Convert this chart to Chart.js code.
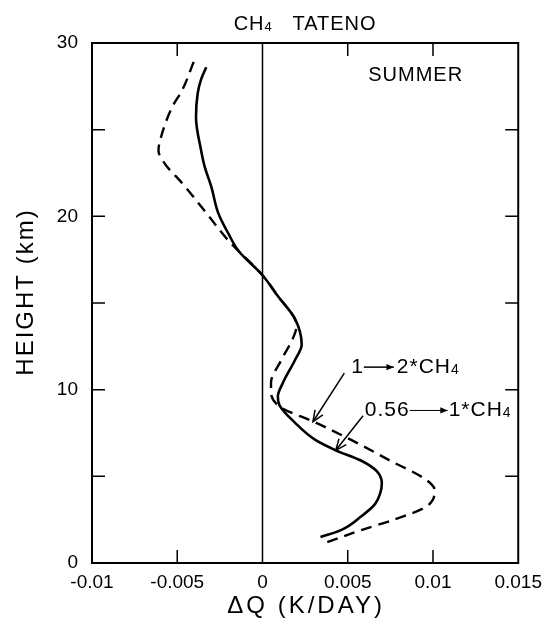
<!DOCTYPE html>
<html>
<head>
<meta charset="utf-8">
<script src="https://cdn.jsdelivr.net/npm/chart.js@4.4.0/dist/chart.umd.min.js"></script>
<style>
  html, body { margin: 0; padding: 0; background: #fff; }
</style>
</head>
<body>
<canvas id="profileChart" width="550" height="632"></canvas>
<script>
// values: height (km) and change of heating rate (K/day)
const solidHeight = [1.5, 1.9, 2.7, 3.4, 4.0, 4.6, 5.3, 5.9, 6.5, 7.1, 8.1, 9.1, 9.6, 10.4, 11.7, 12.6, 14.1, 15.4, 16.6, 18.0, 19.0, 20.2, 21.7, 22.9, 23.8, 25.7, 27.1, 27.9, 28.6];
const solidDQ = [0.0034, 0.0046, 0.0058, 0.0066, 0.0069, 0.0070, 0.0067, 0.0058, 0.0043, 0.0031, 0.0019, 0.0010, 0.0009, 0.0012, 0.0019, 0.0023, 0.0019, 0.0009, 0.0, -0.0014, -0.0020, -0.0026, -0.0030, -0.0034, -0.0036, -0.0039, -0.0038, -0.0036, -0.0033];

const dashedHeight = [1.2, 1.9, 2.5, 3.25, 4.2, 4.8, 5.9, 7.1, 8.15, 8.9, 9.2, 9.8, 10.4, 11.7, 13.0, 13.7, 15.4, 16.6, 18.6, 20.2, 21.9, 23.0, 23.8, 24.4, 26.3, 27.3, 29.0];
const dashedDQ = [0.0038, 0.0058, 0.0077, 0.0096, 0.0101, 0.0096, 0.0075, 0.0052, 0.0030, 0.0012, 0.0008, 0.0005, 0.0005, 0.0011, 0.0018, 0.0020, 0.0009, 0.0, -0.0020, -0.0033, -0.0047, -0.0057, -0.0061, -0.0060, -0.0053, -0.0047, -0.0040];

const xTickLabels = ["-0.01", "-0.005", "0", "0.005", "0.01", "0.015"];
const yTickLabels = [0, 10, 20, 30];
const xTickMarks = [-0.005, 0.005, 0.01];
const yTickMarks = [5, 10, 15, 20, 25];

const FONT = "'Liberation Sans', Arial, sans-serif";

function toPoints(hs, vals) {
  return hs.map((h, i) => ({ x: vals[i], y: h }));
}

// draws text runs ({t, size, dy}) from x on a middle baseline, returns end x
function drawRuns(ctx, runs, x, y) {
  let cx = x;
  runs.forEach((r) => {
    ctx.font = r.size + "px " + FONT;
    ctx.fillText(r.t, cx, y + (r.dy || 0));
    cx += ctx.measureText(r.t).width;
  });
  return cx;
}
function runsWidth(ctx, runs) {
  let w = 0;
  runs.forEach((r) => {
    ctx.font = r.size + "px " + FONT;
    w += ctx.measureText(r.t).width;
  });
  return w;
}

function arrowLine(ctx, x1, y1, x2, y2, head, filled) {
  ctx.beginPath();
  ctx.moveTo(x1, y1);
  ctx.lineTo(x2, y2);
  ctx.stroke();
  const a = Math.atan2(y2 - y1, x2 - x1);
  const p1 = [x2 - head * Math.cos(a - 0.4), y2 - head * Math.sin(a - 0.4)];
  const p2 = [x2 - head * Math.cos(a + 0.4), y2 - head * Math.sin(a + 0.4)];
  ctx.beginPath();
  if (filled) {
    ctx.moveTo(x2, y2);
    ctx.lineTo(p1[0], p1[1]);
    ctx.lineTo(p2[0], p2[1]);
    ctx.closePath();
    ctx.fill();
  } else {
    ctx.moveTo(p1[0], p1[1]);
    ctx.lineTo(x2, y2);
    ctx.lineTo(p2[0], p2[1]);
    ctx.stroke();
  }
}

const framePlugin = {
  id: "frame",
  afterDatasetsDraw(chart) {
    const ctx = chart.ctx;
    const { left, right, top, bottom } = chart.chartArea;
    const xs = chart.scales.x;
    const ys = chart.scales.y;
    ctx.save();
    ctx.strokeStyle = "#000";
    ctx.fillStyle = "#000";

    // box
    ctx.lineWidth = 2;
    ctx.strokeRect(left, top, right - left, bottom - top);

    // zero line
    ctx.lineWidth = 1.5;
    const x0 = xs.getPixelForValue(0);
    ctx.beginPath();
    ctx.moveTo(x0, top);
    ctx.lineTo(x0, bottom);
    ctx.stroke();

    // inward tick marks on all four sides
    const tl = 13;
    ctx.beginPath();
    xTickMarks.forEach((v) => {
      const px = xs.getPixelForValue(v);
      ctx.moveTo(px, bottom);
      ctx.lineTo(px, bottom - tl);
      ctx.moveTo(px, top);
      ctx.lineTo(px, top + tl);
    });
    yTickMarks.forEach((v) => {
      const py = ys.getPixelForValue(v);
      ctx.moveTo(left, py);
      ctx.lineTo(left + tl, py);
      ctx.moveTo(right, py);
      ctx.lineTo(right - tl, py);
    });
    ctx.stroke();

    ctx.textBaseline = "middle";
    ctx.textAlign = "left";

    // title
    ctx.letterSpacing = "1px";
    const titleRuns = [
      { t: "CH", size: 20 },
      { t: "4", size: 13, dy: 3 },
      { t: "   TATENO", size: 20 },
    ];
    const tw = runsWidth(ctx, titleRuns);
    drawRuns(ctx, titleRuns, (left + right) / 2 - tw / 2, top - 19);

    // season label
    drawRuns(ctx, [{ t: "SUMMER", size: 20 }], xs.getPixelForValue(0.0062), ys.getPixelForValue(28.15));

    // label 1 -> 2*CH4, pointing at the dashed curve
    let lx = xs.getPixelForValue(0.0052);
    let ly = ys.getPixelForValue(11.3);
    let cx = drawRuns(ctx, [{ t: "1", size: 21 }], lx, ly);
    ctx.lineWidth = 1.5;
    arrowLine(ctx, cx, ly, cx + 30, ly, 8, true);
    drawRuns(ctx, [{ t: "2*CH", size: 21 }, { t: "4", size: 14, dy: 3 }], cx + 33, ly);
    arrowLine(ctx, xs.getPixelForValue(0.0048), ys.getPixelForValue(10.95),
      xs.getPixelForValue(0.00296), ys.getPixelForValue(8.15), 12, false);

    // label 0.56 -> 1*CH4, pointing at the solid curve
    lx = xs.getPixelForValue(0.0060);
    ly = ys.getPixelForValue(8.8);
    cx = drawRuns(ctx, [{ t: "0.56", size: 21 }], lx, ly);
    ctx.lineWidth = 1;
    arrowLine(ctx, cx, ly, cx + 38, ly, 8, true);
    drawRuns(ctx, [{ t: "1*CH", size: 21 }, { t: "4", size: 14, dy: 3 }], cx + 39, ly);
    ctx.lineWidth = 1.5;
    arrowLine(ctx, xs.getPixelForValue(0.0059), ys.getPixelForValue(8.5),
      xs.getPixelForValue(0.0043), ys.getPixelForValue(6.5), 12, false);

    // axis titles
    ctx.textAlign = "center";
    ctx.font = "24px " + FONT;
    ctx.letterSpacing = "3px";
    ctx.fillText("ΔQ (K/DAY)", (left + right) / 2 + 1, 606);
    ctx.save();
    ctx.translate(26, 293);
    ctx.rotate(-Math.PI / 2);
    ctx.letterSpacing = "2px";
    ctx.fillText("HEIGHT (km)", 1, 0);
    ctx.restore();

    ctx.restore();
  },
};

new Chart(document.getElementById("profileChart"), {
  type: "line",
  data: {
    datasets: [
      {
        label: "0.56 -> 1*CH4",
        data: toPoints(solidHeight, solidDQ),
        borderColor: "#000",
        borderWidth: 2.6,
        pointRadius: 0,
        fill: false,
        cubicInterpolationMode: "monotone",
      },
      {
        label: "1 -> 2*CH4",
        data: toPoints(dashedHeight, dashedDQ),
        borderColor: "#000",
        borderWidth: 2.4,
        borderDash: [11, 7],
        pointRadius: 0,
        fill: false,
        cubicInterpolationMode: "monotone",
      },
    ],
  },
  options: {
    responsive: false,
    animation: false,
    indexAxis: "y",
    layout: { padding: { top: 43, right: 27, left: 0, bottom: 0 } },
    scales: {
      x: {
        type: "linear",
        position: "bottom",
        min: -0.01,
        max: 0.015,
        grid: { display: false, drawTicks: false },
        border: { display: false },
        ticks: {
          stepSize: 0.005,
          padding: 8,
          color: "#000",
          font: { family: FONT, size: 19 },
          maxRotation: 0,
          callback: function (value) {
            const i = Math.round((value + 0.01) / 0.005);
            return xTickLabels[i];
          },
        },
        afterFit: function (scale) {
          scale.height = 69;
        },
      },
      y: {
        type: "linear",
        position: "left",
        min: 0,
        max: 30,
        grid: { display: false, drawTicks: false },
        border: { display: false },
        ticks: {
          stepSize: 10,
          padding: 14,
          color: "#000",
          font: { family: FONT, size: 19 },
          callback: function (value) {
            return yTickLabels.includes(value) ? String(value) : "";
          },
        },
        afterFit: function (scale) {
          scale.width = 92;
        },
      },
    },
    plugins: {
      legend: { display: false },
      tooltip: { enabled: false },
      title: { display: false },
    },
  },
  plugins: [framePlugin],
});
</script>
</body>
</html>
